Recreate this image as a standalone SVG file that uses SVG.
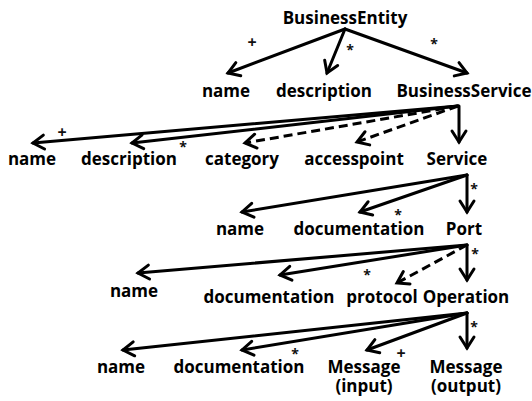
<svg xmlns="http://www.w3.org/2000/svg" width="532" height="401" viewBox="0 0 532 401">
<style>
.t{font-family:"Open Sans","Liberation Sans",sans-serif;font-weight:bold;font-size:17px;fill:#000;text-anchor:middle}
.m{font-family:"Open Sans","Liberation Sans",sans-serif;font-weight:bold;font-size:14px;fill:#111;text-anchor:middle}
.p{font-size:16px}
.e{stroke:#000;stroke-width:3;fill:none;stroke-linecap:round;marker-end:url(#ah)}
.d{stroke-dasharray:9 5;stroke-linecap:butt}
</style>
<defs>
<marker id="ah" markerUnits="userSpaceOnUse" viewBox="-14 -10 16 20" refX="0" refY="0" markerWidth="16" markerHeight="20" orient="auto" overflow="visible">
<path d="M-11,-7 L0,0 L-11,7" fill="none" stroke="#000" stroke-width="3" stroke-linecap="round" stroke-linejoin="miter"/>
</marker>
</defs>
<rect width="532" height="401" fill="#fff"/>
<g id="connectors">
<line class="e" x1="345" y1="29" x2="228" y2="73"/>
<line class="e" x1="345" y1="29" x2="327" y2="73"/>
<line class="e" x1="345" y1="29" x2="467" y2="73"/>
<line class="e" x1="458" y1="106" x2="33" y2="143"/>
<line class="e" x1="458" y1="106" x2="132" y2="143"/>
<line class="e d" x1="458" y1="106" x2="245" y2="143"/>
<line class="e d" x1="458" y1="106" x2="357" y2="142"/>
<line class="e" x1="459" y1="106" x2="459" y2="142"/>
<line class="e" x1="467" y1="175" x2="242" y2="212"/>
<line class="e" x1="467" y1="175" x2="360" y2="212"/>
<line class="e" x1="467" y1="175" x2="467" y2="212"/>
<line class="e" x1="467" y1="245" x2="138" y2="273"/>
<line class="e" x1="467" y1="245" x2="280" y2="275"/>
<line class="e d" x1="467" y1="245" x2="397" y2="283"/>
<line class="e" x1="467" y1="245" x2="467" y2="280"/>
<line class="e" x1="467" y1="313" x2="123" y2="350"/>
<line class="e" x1="467" y1="313" x2="242" y2="350"/>
<line class="e" x1="467" y1="313" x2="367" y2="350"/>
<line class="e" x1="467" y1="313" x2="467" y2="348"/>
<text class="m p" x="252" y="48">+</text>
<text class="m" x="350" y="55">*</text>
<text class="m" x="434" y="49">*</text>
<text class="m p" x="62" y="138">+</text>
<text class="m" x="183" y="152">*</text>
<text class="m" x="474" y="194">*</text>
<text class="m" x="398" y="220">*</text>
<text class="m" x="475" y="259">*</text>
<text class="m" x="367" y="280">*</text>
<text class="m" x="474" y="332">*</text>
<text class="m" x="295" y="359">*</text>
<text class="m p" x="401" y="359">+</text>
</g>
<g id="BusinessEntity"><text class="t" x="345" y="24">BusinessEntity</text></g>
<g id="be-name"><text class="t" x="226" y="97">name</text></g>
<g id="be-description"><text class="t" x="324" y="97">description</text></g>
<g id="BusinessService"><text class="t" x="464" y="97">BusinessService</text></g>
<g id="bs-name"><text class="t" x="32" y="165">name</text></g>
<g id="bs-description"><text class="t" x="129" y="165">description</text></g>
<g id="bs-category"><text class="t" x="242" y="165">category</text></g>
<g id="bs-accesspoint"><text class="t" x="354" y="165">accesspoint</text></g>
<g id="Service"><text class="t" x="457" y="165">Service</text></g>
<g id="s-name"><text class="t" x="240" y="235">name</text></g>
<g id="s-documentation"><text class="t" x="359" y="235">documentation</text></g>
<g id="Port"><text class="t" x="464" y="235">Port</text></g>
<g id="p-name"><text class="t" x="134" y="297">name</text></g>
<g id="p-documentation"><text class="t" x="269" y="303">documentation</text></g>
<g id="p-protocol"><text class="t" x="382" y="303">protocol</text></g>
<g id="Operation"><text class="t" x="466" y="303">Operation</text></g>
<g id="o-name"><text class="t" x="121" y="373">name</text></g>
<g id="o-documentation"><text class="t" x="239" y="373">documentation</text></g>
<g id="msg-input"><text class="t" x="364" y="373">Message</text><text class="t" x="364" y="392">(input)</text></g>
<g id="msg-output"><text class="t" x="466" y="373">Message</text><text class="t" x="466" y="392">(output)</text></g>
</svg>
